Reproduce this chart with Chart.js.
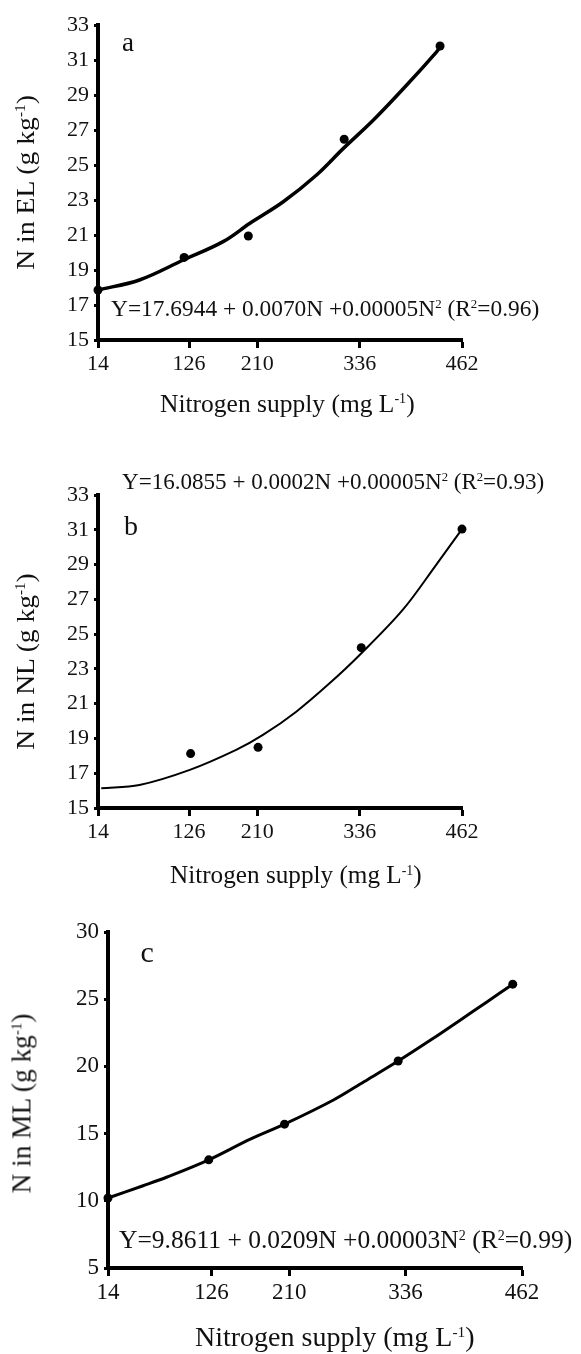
<!DOCTYPE html>
<html>
<head>
<meta charset="utf-8">
<script src="https://cdn.jsdelivr.net/npm/chart.js@4.4.1/dist/chart.umd.min.js"></script>
<style>
  body { margin: 0; background: #fff; }
  #page { position: relative; width: 581px; height: 1354px; overflow: hidden; }
  canvas { position: absolute; left: 0; }
  .txt { position: absolute; white-space: nowrap; font-family: "Liberation Serif", serif; line-height: 1; color: #111; }
  .sup { position: relative; top: -0.62em; font-size: 0.55em; }
</style>
</head>
<body>
<div id="page">
  <canvas id="chartA" width="581" height="440" style="top:0px"></canvas>
  <canvas id="chartB" width="581" height="460" style="top:440px"></canvas>
  <canvas id="chartC" width="581" height="454" style="top:900px"></canvas>
</div>
<script>
/******************************************* data **/
const xTicks = [14, 126, 210, 336, 462];

// a - N in EL
const elSupply = [14, 120, 199, 317, 435];
const elN = [17.86, 19.72, 20.94, 26.47, 31.8];
const elFitSupply = [14, 65, 119, 168, 201, 242, 283, 316, 353, 394, 431, 435];
const elFitN = [17.86, 18.43, 19.57, 20.62, 21.67, 22.9, 24.43, 25.95, 27.57, 29.57, 31.48, 31.76];

// b - N in NL
const nlSupply = [128, 211, 338, 462];
const nlN = [18.13, 18.49, 24.22, 31.04];
const nlFitSupply = [18, 65, 127, 184, 217, 258, 299, 336, 389, 430, 462];
const nlFitN = [16.13, 16.32, 17.19, 18.34, 19.2, 20.54, 22.17, 23.8, 26.39, 28.97, 31.04];

// c - N in ML
const mlSupply = [14, 123, 205, 328, 452];
const mlN = [10.21, 13.05, 15.7, 20.4, 26.12];
const mlFitSupply = [14, 52, 78, 123, 168, 205, 258, 291, 328, 366, 395, 424, 452];
const mlFitN = [10.21, 11.12, 11.77, 13.05, 14.59, 15.7, 17.5, 18.86, 20.4, 22.09, 23.44, 24.8, 26.12];

/******************************************* helpers **/
const page = document.getElementById("page");
const serif = "Liberation Serif";

function toXY(xs, ys) {
  return xs.map((x, i) => ({ x: x, y: ys[i] }));
}

// html text, optionally stretched to the width
function addText(html, o) {
  const el = document.createElement("div");
  el.className = "txt";
  el.innerHTML = html;
  el.style.fontSize = o.size + "px";
  page.appendChild(el);
  const w = el.offsetWidth;
  const sx = o.width ? o.width / w : 1;
  if (o.rotate) {
    el.style.left = o.cx - w / 2 + "px";
    el.style.top = o.cy - o.size / 2 + "px";
    el.style.transformOrigin = "50% 50%";
    el.style.transform = "rotate(-90deg) scaleX(" + sx + ")";
  } else {
    const left = o.cx !== undefined ? o.cx - w / 2 : o.left;
    el.style.left = left + "px";
    el.style.top = o.baseline - 0.8375 * o.size + "px";
    el.style.transformOrigin = "0 0";
    el.style.transform = "scaleX(" + sx + ")";
  }
}

function makePanel(id, cfg) {
  const canvas = document.getElementById(id);
  const H = canvas.height;
  const area = cfg.area;
  const font = { family: serif, size: cfg.tickSize };

  return new Chart(canvas, {
    type: "scatter",
    data: {
      datasets: [
        {
          data: cfg.points,
          pointRadius: 4.5,
          pointBackgroundColor: "#000",
          pointBorderWidth: 0,
          showLine: false,
          clip: false,
        },
        {
          data: cfg.fit,
          showLine: true,
          pointRadius: 0,
          borderColor: "#000",
          borderWidth: cfg.lineWidth,
          tension: 0.35,
          clip: false,
        },
      ],
    },
    options: {
      responsive: false,
      animation: false,
      devicePixelRatio: 1,
      layout: { padding: { left: 0, top: area.top, right: 581 - area.right, bottom: 0 } },
      plugins: { legend: { display: false }, tooltip: { enabled: false } },
      scales: {
        x: {
          type: "linear",
          min: 14,
          max: 462,
          afterBuildTicks: (s) => {
            s.ticks = xTicks.map((v) => ({ value: v }));
          },
          afterFit: (s) => {
            s.height = H - area.bottom;
          },
          border: { display: true, color: "#000", width: 4 },
          grid: { display: true, drawOnChartArea: false, drawTicks: true, tickLength: 8, tickWidth: 3, tickColor: "#000" },
          ticks: { font: font, color: "#111", padding: 3, maxRotation: 0, autoSkip: false },
        },
        y: {
          type: "linear",
          min: cfg.yMin,
          max: cfg.yMax,
          afterFit: (s) => {
            s.width = area.left;
          },
          border: { display: true, color: "#000", width: 4 },
          grid: { display: true, drawOnChartArea: false, drawTicks: true, tickLength: 4, tickWidth: 3, tickColor: "#000" },
          ticks: { font: font, color: "#111", padding: 5, stepSize: cfg.yStep },
        },
      },
    },
  });
}

/******************************************* charts **/
makePanel("chartA", {
  area: { left: 98, right: 462, top: 25, bottom: 340 },
  yMin: 15, yMax: 33, yStep: 2,
  tickSize: 22,
  lineWidth: 3.5,
  points: toXY(elSupply, elN),
  fit: toXY(elFitSupply, elFitN),
});

makePanel("chartB", {
  area: { left: 98, right: 462, top: 55, bottom: 368 },
  yMin: 15, yMax: 33, yStep: 2,
  tickSize: 22,
  lineWidth: 2,
  points: toXY(nlSupply, nlN),
  fit: toXY(nlFitSupply, nlFitN),
});

makePanel("chartC", {
  area: { left: 108, right: 522, top: 32, bottom: 368 },
  yMin: 5, yMax: 30, yStep: 5,
  tickSize: 23,
  lineWidth: 3,
  points: toXY(mlSupply, mlN),
  fit: toXY(mlFitSupply, mlFitN),
});

/******************************************* texts **/
const sup = (t) => '<span class="sup">' + t + "</span>";
const xTitle = "Nitrogen supply (mg L" + sup("-1") + ")";

// panel a
addText("a", { cx: 128, baseline: 52, size: 27 });
addText("Y=17.6944 + 0.0070N +0.00005N" + sup("2") + " (R" + sup("2") + "=0.96)", { left: 111, width: 428, baseline: 317, size: 23.5 });
addText("N in EL (g kg" + sup("-1") + ")", { rotate: true, cx: 25.5, cy: 182.5, width: 175, size: 25 });
addText(xTitle, { left: 160, width: 255, baseline: 411.7, size: 25 });

// panel b
addText("b", { cx: 131, baseline: 535, size: 28 });
addText("Y=16.0855 + 0.0002N +0.00005N" + sup("2") + " (R" + sup("2") + "=0.93)", { left: 122, width: 422, baseline: 490, size: 23.5 });
addText("N in NL (g kg" + sup("-1") + ")", { rotate: true, cx: 25.5, cy: 661.7, width: 177, size: 25 });
addText(xTitle, { left: 170, width: 252, baseline: 883, size: 25 });

// panel c
addText("c", { cx: 147, baseline: 961.7, size: 30 });
addText("Y=9.8611 + 0.0209N +0.00003N" + sup("2") + " (R" + sup("2") + "=0.99)", { left: 118.5, width: 453, baseline: 1248, size: 25 });
addText("N in ML (g kg" + sup("-1") + ")", { rotate: true, cx: 21.5, cy: 1103, width: 180, size: 27 });
addText(xTitle, { left: 195, width: 280, baseline: 1347, size: 27 });
</script>
</body>
</html>
